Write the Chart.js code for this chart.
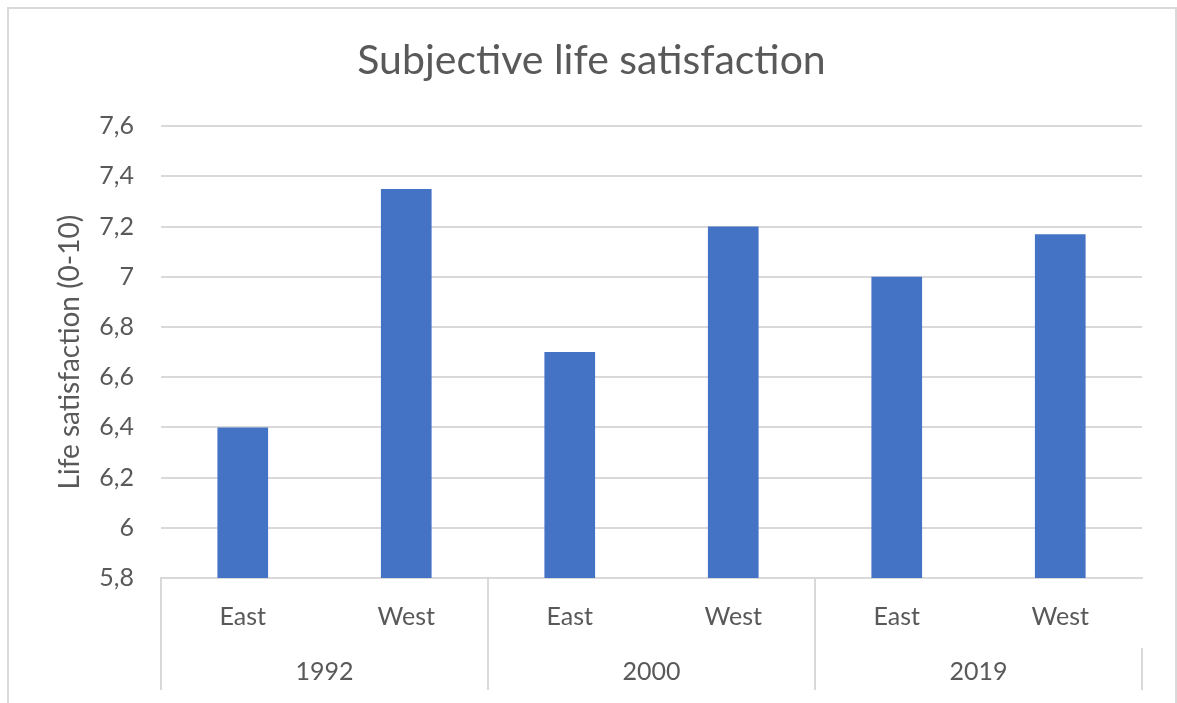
<!DOCTYPE html>
<html>
<head>
<meta charset="utf-8">
<title>Subjective life satisfaction</title>
<script src="https://cdn.jsdelivr.net/npm/chart.js@4"></script>
<style>
  html, body { margin: 0; padding: 0; background: #ffffff; overflow: hidden; }
  #frame {
    position: absolute; left: 7px; top: 7px; width: 1170px; height: 720px;
    border: 2px solid #d9d9d9; box-sizing: border-box;
  }
  #wrap { position: absolute; left: 0; top: 0; width: 1177px; height: 703px; }
</style>
</head>
<body>
<div id="frame"></div>
<div id="wrap"><canvas id="chart" width="1177" height="703"></canvas></div>
<script>
// Regions and survey years (two-level category axis)
const regions = ['East', 'West', 'East', 'West', 'East', 'West'];
const years = ['1992', '2000', '2019'];
// Mean life satisfaction on a 0-10 scale, one value per region/year pair
const satisfaction = [6.4, 7.35, 6.7, 7.2, 7.0, 7.17];
// Value axis range and step
const yMin = 5.8;
const yMax = 7.6;
const yStep = 0.2;

const textColor = '#595959';
const gridColor = '#d9d9d9';
const fontFamily = 'Lato, "Open Sans", sans-serif';

const fmt = v => String(Number(v.toFixed(1))).replace('.', ',');

new Chart(document.getElementById('chart'), {
  type: 'bar',
  data: {
    labels: regions,
    datasets: [{
      label: 'Life satisfaction',
      data: satisfaction,
      backgroundColor: '#4472c4',
      borderWidth: 0,
      categoryPercentage: 1,
      barPercentage: 0.31
    }]
  },
  options: {
    responsive: false,
    animation: false,
    layout: { padding: { left: 41, right: 35, top: 0, bottom: 0 } },
    plugins: {
      legend: { display: false },
      tooltip: { enabled: false },
      title: {
        display: true,
        text: 'Subjective life satisfaction',
        color: textColor,
        font: { family: fontFamily, size: 41, weight: 'normal' },
        padding: { top: 36, bottom: 41 }
      }
    },
    scales: {
      y: {
        min: yMin,
        max: yMax,
        afterFit: s => { s.width = 120; },
        ticks: {
          stepSize: yStep,
          color: textColor,
          font: { family: fontFamily, size: 25 },
          padding: 27,
          callback: v => fmt(v)
        },
        grid: { color: gridColor, lineWidth: 2, drawTicks: false },
        border: { display: false },
        title: {
          display: true,
          text: 'Life satisfaction (0-10)',
          color: textColor,
          font: { family: fontFamily, size: 28 },
          padding: { top: 12, bottom: 0 }
        }
      },
      x: {
        type: 'category',
        position: 'bottom',
        afterFit: s => { s.height = 70; },
        grid: {
          offset: true,
          drawOnChartArea: false,
          drawTicks: true,
          tickLength: 70,
          lineWidth: 2,
          color: c => (c.index % 2 === 0 ? gridColor : 'rgba(0,0,0,0)')
        },
        border: { display: true, color: gridColor, width: 2 },
        ticks: {
          color: textColor,
          font: { family: fontFamily, size: 25 },
          padding: -46,
          maxRotation: 0,
          autoSkip: false
        }
      },
      x2: {
        type: 'category',
        position: 'bottom',
        labels: years,
        afterFit: s => { s.height = 55; },
        grid: {
          offset: true,
          drawOnChartArea: false,
          drawTicks: true,
          tickLength: 42,
          lineWidth: 2,
          color: gridColor
        },
        border: { display: false },
        ticks: {
          color: textColor,
          font: { family: fontFamily, size: 25 },
          padding: -33,
          maxRotation: 0,
          autoSkip: false
        }
      }
    }
  }
});
</script>
</body>
</html>
